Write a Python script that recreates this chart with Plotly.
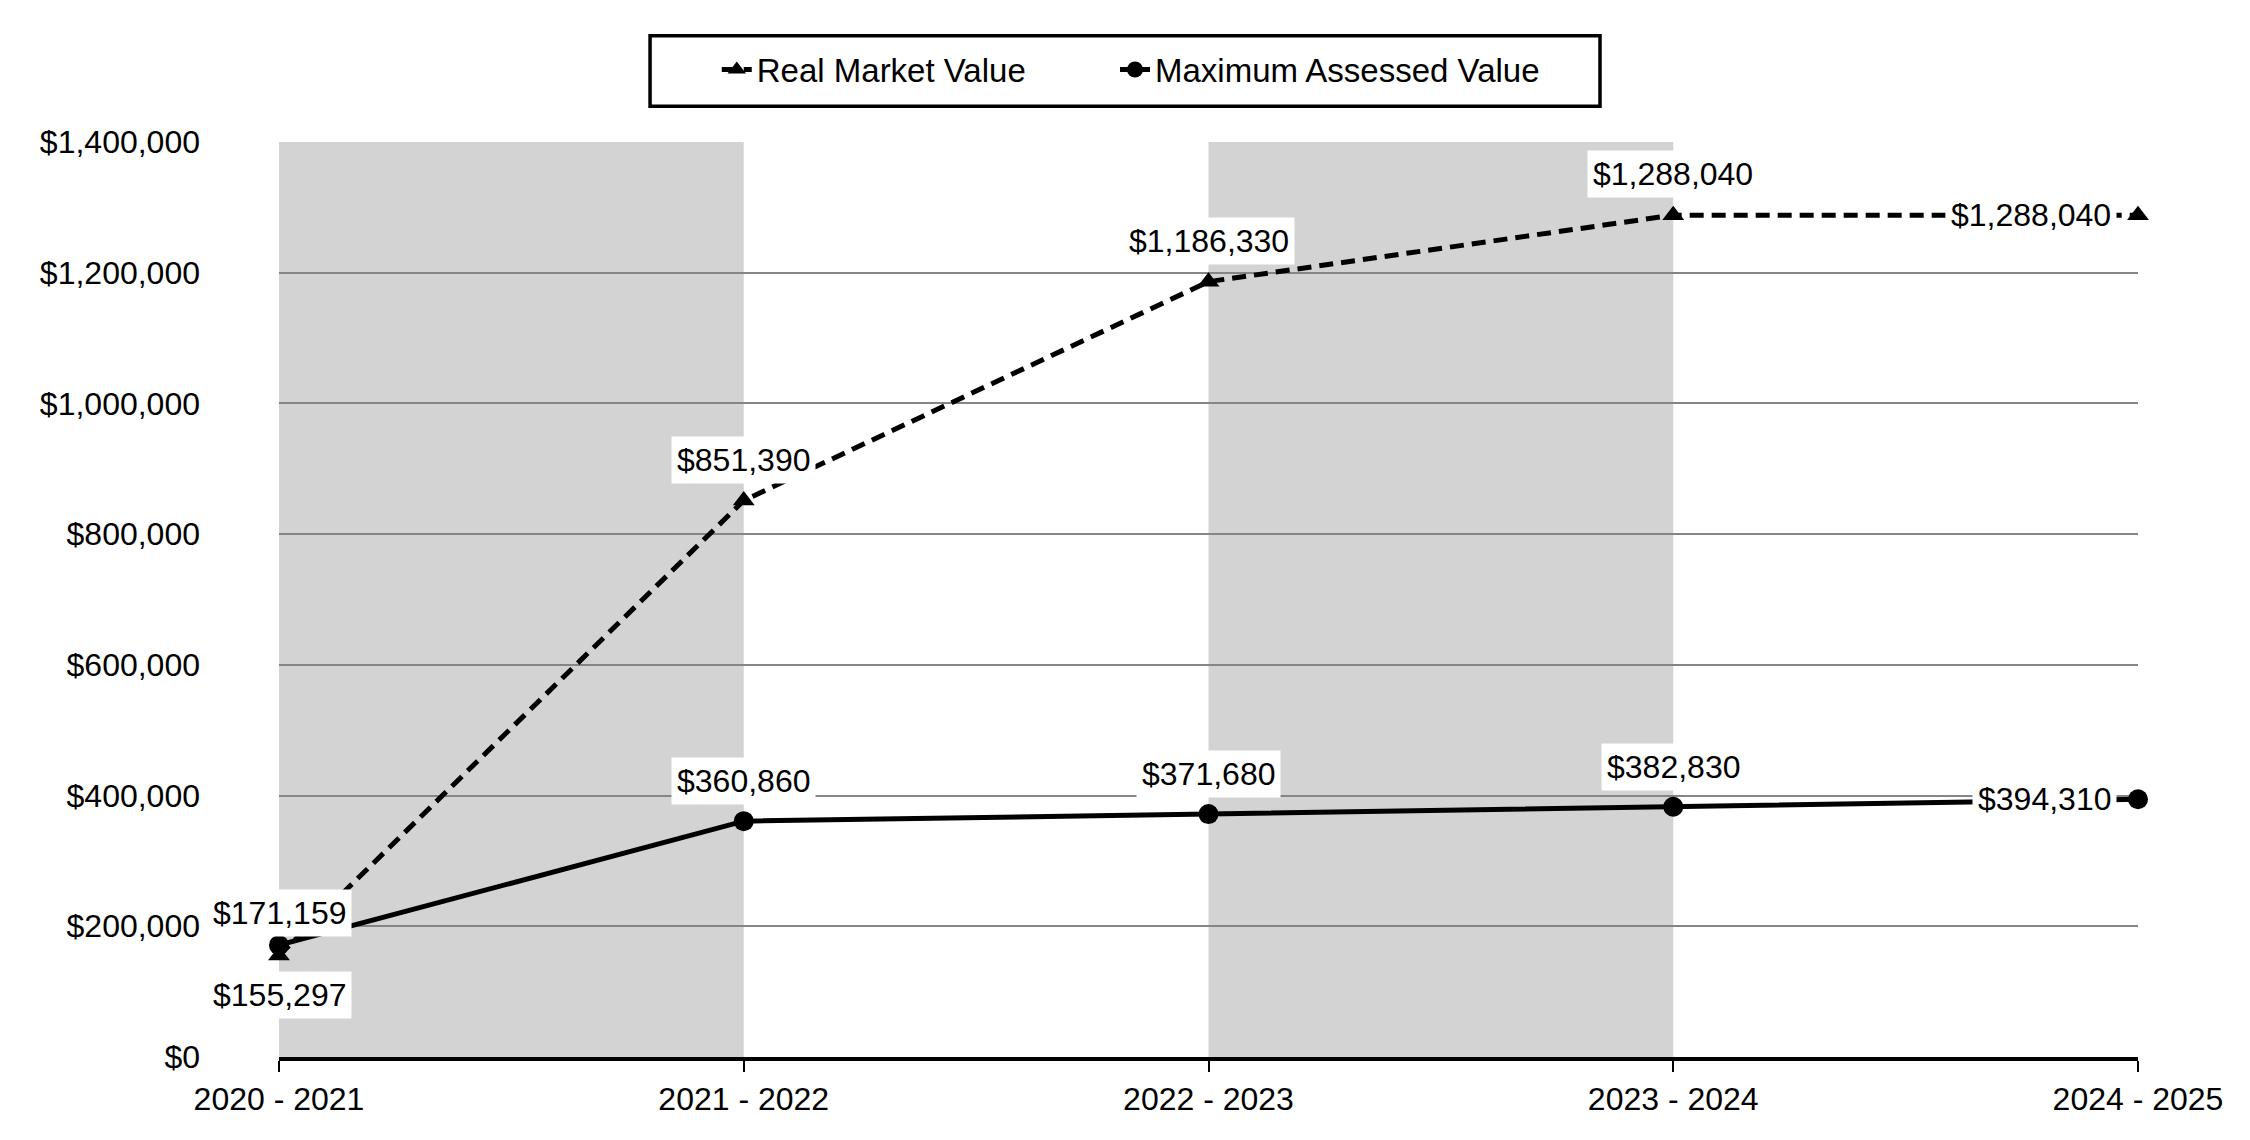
import plotly.graph_objects as go

years = ["2020 - 2021", "2021 - 2022", "2022 - 2023", "2023 - 2024", "2024 - 2025"]
real_market = [155297, 851390, 1186330, 1288040, 1288040]
max_assessed = [171159, 360860, 371680, 382830, 394310]
y_ticks = [0, 200000, 400000, 600000, 800000, 1000000, 1200000, 1400000]
y_tick_labels = ["$0", "$200,000", "$400,000", "$600,000", "$800,000", "$1,000,000", "$1,200,000", "$1,400,000"]

xs = list(range(len(years)))
FONT = "Liberation Sans, Arial, sans-serif"

fig = go.Figure()
fig.add_trace(go.Scatter(
    x=xs, y=real_market, name="Real Market Value", mode="lines+markers",
    line=dict(color="black", width=5, dash="14px,8px"),
    marker=dict(symbol="triangle-up", size=19, color="black"),
    cliponaxis=False, legend="legend",
))
fig.add_trace(go.Scatter(
    x=xs, y=max_assessed, name="Maximum Assessed Value", mode="lines+markers",
    line=dict(color="black", width=5),
    marker=dict(symbol="circle", size=20, color="black"),
    cliponaxis=False, legend="legend2",
))

# shaded alternating bands
for i in range(0, len(years) - 1, 2):
    fig.add_shape(type="rect", xref="x", yref="y", x0=xs[i], x1=xs[i + 1],
                  y0=y_ticks[0], y1=y_ticks[-1], fillcolor="#d3d3d3",
                  line=dict(width=0), layer="below")

# legend frame
fig.add_shape(type="rect", xref="paper", yref="paper", x0=0.1996, x1=0.7106,
              y0=1.039, y1=1.116, line=dict(color="black", width=3.5),
              fillcolor="rgba(0,0,0,0)")

def label(x, y, text, xshift=0, yshift=0, xanchor="center"):
    fig.add_annotation(x=x, y=y, text=text, showarrow=False, xref="x", yref="y",
                       xshift=xshift, yshift=yshift, xanchor=xanchor, yanchor="middle",
                       bgcolor="white", borderpad=5,
                       font=dict(family=FONT, size=32, color="black"))

n = len(years)
for i in range(n):
    rt = "${:,}".format(real_market[i])
    mt = "${:,}".format(max_assessed[i])
    if i == 0:
        label(xs[i], real_market[i], rt, yshift=-39)
        label(xs[i], max_assessed[i], mt, yshift=32)
    elif i == n - 1:
        label(xs[i], real_market[i], rt, xshift=-21, xanchor="right")
        label(xs[i], max_assessed[i], mt, xshift=-21, xanchor="right")
    else:
        label(xs[i], real_market[i], rt, yshift=41)
        label(xs[i], max_assessed[i], mt, yshift=40)

legend_common = dict(orientation="h", xref="container", yref="container",
                     xanchor="left", y=0.946, yanchor="middle",
                     bgcolor="rgba(0,0,0,0)", borderwidth=0,
                     font=dict(family=FONT, size=33, color="black"))

fig.update_layout(
    width=2250, height=1140,
    margin=dict(l=271, r=120, t=134, b=91),
    paper_bgcolor="white", plot_bgcolor="white",
    font=dict(family=FONT, size=32, color="black"),
    showlegend=True,
    legend=dict(x=0.315, **legend_common),
    legend2=dict(x=0.492, **legend_common),
    xaxis=dict(range=[xs[0], xs[-1]], tickvals=xs, ticktext=years,
               showgrid=False, zeroline=False, showline=True, linecolor="black",
               linewidth=3.5, ticks="outside", ticklen=11, tickwidth=2,
               tickcolor="black", ticklabelstandoff=0,
               tickfont=dict(family=FONT, size=32, color="black")),
    yaxis=dict(range=[y_ticks[0], y_ticks[-1]], tickvals=y_ticks, ticktext=y_tick_labels,
               showgrid=True, gridcolor="#858585", gridwidth=1.6, zeroline=False,
               showline=False, ticks="", ticklabelstandoff=78,
               tickfont=dict(family=FONT, size=32, color="black")),
)

fig.write_html("out.html")
